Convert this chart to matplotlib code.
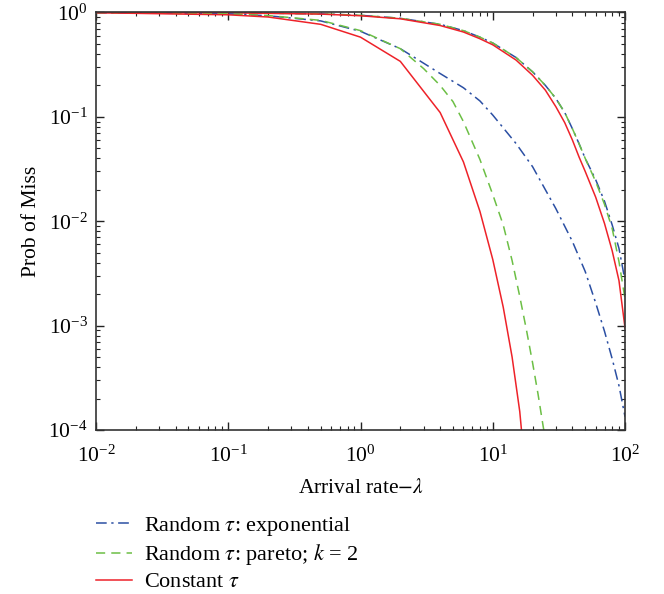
import numpy as np
import matplotlib
matplotlib.use('Agg')
import matplotlib.pyplot as plt
from matplotlib.ticker import LogLocator, NullFormatter

plt.rcParams.update({
    'font.family': 'Liberation Serif',
    'mathtext.fontset': 'stix',
    'font.size': 15.5,
    'xtick.direction': 'in',
    'ytick.direction': 'in',
    'xtick.top': True,
    'ytick.right': True,
})

# ---------------------------------------------------------------------------
# Data (two groups of curves: left and right)
# ---------------------------------------------------------------------------
exp_left_x = [0.01, 0.1, 0.2, 0.5, 1, 2, 4, 6, 8, 10, 15, 20, 30, 40, 50, 60, 70, 80, 90, 100]
exp_left_y = [0.997, 0.97, 0.93, 0.83, 0.66, 0.45, 0.26, 0.19, 0.142, 0.104, 0.0555, 0.0333,
              0.0132, 0.0064, 0.0033, 0.00165, 8.8e-4, 4.8e-4, 2.66e-4, 1.34e-4]

par_left_x = [0.01, 0.1, 0.2, 0.5, 1, 2, 3, 4, 5, 6, 8, 10, 12, 14, 16, 18, 20, 22, 24, 26]
par_left_y = [0.997, 0.97, 0.935, 0.84, 0.67, 0.45, 0.29, 0.2, 0.14, 0.09, 0.039, 0.018,
              0.0092, 0.0042, 0.0019, 9e-4, 4.4e-4, 2.2e-4, 1.1e-4, 6e-5]

con_left_x = [0.01, 0.1, 0.2, 0.5, 1, 2, 4, 6, 8, 10, 12, 14, 16, 18]
con_left_y = [0.995, 0.95, 0.905, 0.77, 0.58, 0.34, 0.11, 0.037, 0.0124, 0.0043,
              0.0015, 5e-4, 1.5e-4, 3e-5]

right_x = [0.01, 0.1, 0.5, 1, 2, 4, 6, 8, 10, 15, 20, 25, 30, 35, 40, 45, 50, 60, 70, 80, 90, 100]
exp_right_y = [1.0, 0.995, 0.97, 0.94, 0.88, 0.77, 0.67, 0.58, 0.51, 0.37, 0.27, 0.2, 0.15,
               0.11, 0.077, 0.055, 0.04, 0.025, 0.0155, 0.0092, 0.0055, 0.0027]
par_right_y = [1.0, 0.995, 0.97, 0.94, 0.88, 0.77, 0.67, 0.58, 0.51, 0.37, 0.27, 0.2, 0.15,
               0.11, 0.077, 0.055, 0.04, 0.024, 0.0145, 0.0085, 0.0041, 0.0018]
con_right_y = [1.0, 0.993, 0.965, 0.93, 0.87, 0.75, 0.65, 0.56, 0.49, 0.35, 0.25, 0.18, 0.125,
               0.088, 0.06, 0.041, 0.03, 0.017, 0.0095, 0.0052, 0.0027, 0.00095]

labels = [r'Random $\tau$: exponential', r'Random $\tau$: pareto; $k$ = 2', r'Constant $\tau$']

BLUE = '#2b4fa3'
GREEN = '#6cbf45'
RED = '#ee2229'
DASHDOT = (0, (7, 3, 1.5, 3))
DASHED = (0, (6, 4))

fig = plt.figure(figsize=(6.64, 5.94), dpi=100)
ax = fig.add_axes([0.1446, 0.2761, 0.7967, 0.7029])

lw = 1.1
ax.plot(right_x, exp_right_y, color=BLUE, linestyle=DASHDOT, linewidth=lw)
ax.plot(right_x, par_right_y, color=GREEN, linestyle=DASHED, linewidth=lw)
ax.plot(right_x, con_right_y, color=RED, linestyle='-', linewidth=lw)
h1, = ax.plot(exp_left_x, exp_left_y, color=BLUE, linestyle=DASHDOT, linewidth=lw)
h2, = ax.plot(par_left_x, par_left_y, color=GREEN, linestyle=DASHED, linewidth=lw)
h3, = ax.plot(con_left_x, con_left_y, color=RED, linestyle='-', linewidth=lw)

ax.set_xscale('log')
ax.set_yscale('log')
ax.set_xlim(1e-2, 1e2)
ax.set_ylim(1e-4, 1e0)
ax.xaxis.set_major_locator(LogLocator(base=10, numticks=10))
ax.yaxis.set_major_locator(LogLocator(base=10, numticks=10))
ax.xaxis.set_minor_locator(LogLocator(base=10, subs=np.arange(2, 10), numticks=20))
ax.yaxis.set_minor_locator(LogLocator(base=10, subs=np.arange(2, 10), numticks=20))
ax.xaxis.set_minor_formatter(NullFormatter())
ax.yaxis.set_minor_formatter(NullFormatter())
ax.tick_params(which='major', length=6, width=1.0, color='#222222')
ax.tick_params(which='minor', length=3, width=0.8, color='#222222')
ax.tick_params(axis='x', which='major', pad=11)
ax.tick_params(axis='y', which='major', pad=6)
for sp in ax.spines.values():
    sp.set_linewidth(1.2)
    sp.set_color('#333333')

ax.set_xlabel(r'Arrival rate$-\lambda$', labelpad=9)
ax.set_ylabel('Prob of Miss', labelpad=5)

fig.legend([h1, h2, h3], labels, loc='upper left', bbox_to_anchor=(0.1446, 0.133),
           frameon=False, handlelength=1.6, handletextpad=0.55, labelspacing=0.2,
           borderaxespad=0, borderpad=0, fontsize=16)

fig.savefig('out.png', dpi=100)
